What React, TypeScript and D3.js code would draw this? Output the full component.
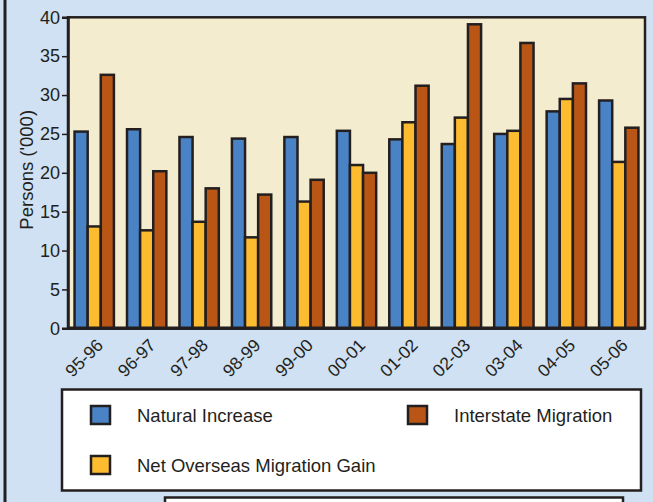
import { useEffect, useRef } from "react";
import * as d3 from "d3";

const categories = ["95-96", "96-97", "97-98", "98-99", "99-00", "00-01", "01-02", "02-03", "03-04", "04-05", "05-06"];
const naturalIncrease = [25.3, 25.6, 24.6, 24.4, 24.6, 25.4, 24.3, 23.7, 25.0, 27.9, 29.3];
const netOverseas = [13.1, 12.6, 13.7, 11.7, 16.3, 21.0, 26.5, 27.1, 25.4, 29.5, 21.4];
const interstate = [32.6, 20.2, 18.0, 17.2, 19.1, 20.0, 31.2, 39.1, 36.7, 31.5, 25.8];
const seriesNames = ["Natural Increase", "Net Overseas Migration Gain", "Interstate Migration"];
const seriesColors = ["#4a83c5", "#fdbc30", "#b95616"];
const yTicks = [0, 5, 10, 15, 20, 25, 30, 35, 40];

const W = 653;
const H = 502;
const ink = "#231f20";
const font = "'Liberation Sans', Arial, sans-serif";

export default function App() {
  const svgRef = useRef<SVGSVGElement>(null);

  useEffect(() => {
    if (!svgRef.current) return;
    const svg = d3.select(svgRef.current);
    svg.selectAll("*").remove();

    const plot = { left: 68, right: 645, top: 17.3, bottom: 328.3 };

    // page background + left frame line
    svg.append("rect").attr("width", W).attr("height", H).attr("fill", "#cfe1f2");
    svg.append("line")
      .attr("x1", 5).attr("x2", 5).attr("y1", 0).attr("y2", H)
      .attr("stroke", ink).attr("stroke-width", 3);

    const x0 = d3.scaleBand<string>()
      .domain(categories)
      .range([plot.left, plot.right])
      .paddingInner(0.25)
      .paddingOuter(0.125);
    const x1 = d3.scaleBand<number>()
      .domain([0, 1, 2])
      .range([0, x0.bandwidth()]);
    const y = d3.scaleLinear().domain([0, 40]).range([plot.bottom, plot.top]);

    // plot area
    svg.append("rect")
      .attr("x", plot.left).attr("y", plot.top)
      .attr("width", plot.right - plot.left).attr("height", plot.bottom - plot.top)
      .attr("fill", "#f3ecce")
      .attr("stroke", ink).attr("stroke-width", 2.5);

    const rows = categories.map((c, i) => ({
      cat: c,
      vals: [naturalIncrease[i], netOverseas[i], interstate[i]],
    }));

    const groups = svg.append("g")
      .selectAll("g")
      .data(rows)
      .join("g")
      .attr("transform", (d) => `translate(${x0(d.cat)},0)`);

    groups.selectAll("rect")
      .data((d) => d.vals.map((v, k) => ({ v, k })))
      .join("rect")
      .attr("x", (d) => x1(d.k) || 0)
      .attr("y", (d) => y(d.v))
      .attr("width", x1.bandwidth())
      .attr("height", (d) => y(0) - y(d.v))
      .attr("fill", (d) => seriesColors[d.k])
      .attr("stroke", ink)
      .attr("stroke-width", 2.5);

    // y axis
    const yAxis = svg.append("g")
      .attr("transform", `translate(${plot.left},0)`)
      .call(d3.axisLeft(y).tickValues(yTicks).tickSize(6).tickPadding(2));
    yAxis.select(".domain").attr("stroke", ink).attr("stroke-width", 2.5);
    yAxis.selectAll(".tick line").attr("stroke", ink).attr("stroke-width", 1.5);
    yAxis.selectAll(".tick text")
      .attr("fill", ink).attr("font-family", font).attr("font-size", 18);

    // x axis baseline
    svg.append("line")
      .attr("x1", plot.left).attr("x2", plot.right)
      .attr("y1", plot.bottom).attr("y2", plot.bottom)
      .attr("stroke", ink).attr("stroke-width", 3.5);

    // x labels
    svg.append("g")
      .selectAll("text")
      .data(categories)
      .join("text")
      .attr("transform", (d) => `translate(${(x0(d) || 0) + x0.bandwidth() / 2 + 10},${plot.bottom + 18}) rotate(-45)`)
      .attr("text-anchor", "end")
      .attr("font-family", font)
      .attr("font-size", 17.5)
      .attr("fill", ink)
      .text((d) => d);

    // y title
    svg.append("text")
      .attr("transform", `translate(33,${(plot.top + plot.bottom) / 2 - 3}) rotate(-90)`)
      .attr("text-anchor", "middle")
      .attr("font-family", font)
      .attr("font-size", 18.5)
      .attr("fill", ink)
      .text("Persons ('000)");

    // legend
    svg.append("rect")
      .attr("x", 62).attr("y", 389.5).attr("width", 579).attr("height", 101)
      .attr("fill", "#ffffff").attr("stroke", ink).attr("stroke-width", 2.5);

    const legendPos = [
      { x: 91, y: 406 },
      { x: 91, y: 456 },
      { x: 408, y: 406 },
    ];
    const items = svg.append("g")
      .selectAll("g")
      .data(seriesNames)
      .join("g")
      .attr("transform", (_, i) => `translate(${legendPos[i].x},${legendPos[i].y})`);
    items.append("rect")
      .attr("width", 19).attr("height", 18)
      .attr("fill", (_, i) => seriesColors[i])
      .attr("stroke", ink).attr("stroke-width", 2.5);
    items.append("text")
      .attr("x", 46).attr("y", 16)
      .attr("font-family", font)
      .attr("font-size", 18.5)
      .attr("fill", ink)
      .text((d) => d);

    // next box peeking in at the bottom
    svg.append("rect")
      .attr("x", 165).attr("y", 497.5).attr("width", 458).attr("height", 40)
      .attr("fill", "#ffffff").attr("stroke", ink).attr("stroke-width", 2.5);
  }, []);

  return (
    <svg
      ref={svgRef}
      width={W}
      height={H}
      style={{ position: "absolute", left: 0, top: 0, display: "block" }}
    />
  );
}
